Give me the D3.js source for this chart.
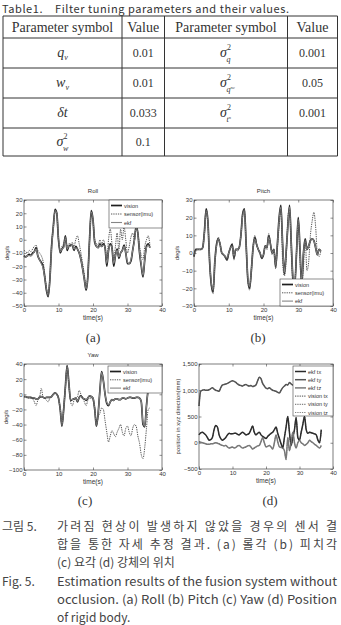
<!DOCTYPE html>
<html><head><meta charset="utf-8">
<script src="https://cdn.jsdelivr.net/npm/d3@7"></script>
<style>body{margin:0;background:#fff}svg{display:block}</style>
</head><body>
<svg id="c" width="341" height="625"></svg>
<script>
// ---------- DATA ----------
const tableTitle = "Table1.    Filter tuning parameters and their values.";
const tableHeader = ["Parameter symbol", "Value", "Parameter symbol", "Value"];
const leftSymbols = ["q_v", "w_v", "δt", "σ_w"];
const leftValues = ["0.01", "0.01", "0.033", "0.1"];
const rightSymbols = ["σ_q", "σ_qnc", "σ_tn", ""];
const rightValues = ["0.001", "0.05", "0.001", ""];

const xTicks = [0, 10, 20, 30, 40];
const time = [0,0.5,1,1.5,2,2.5,3,3.5,4,4.5,5,5.5,6,6.5,7,7.5,8,8.5,9,9.5,10,10.5,11,11.5,12,12.5,13,13.5,14,14.5,15,15.5,16,16.5,17,17.5,18,18.5,19,19.5,20,20.5,21,21.5,22,22.5,23,23.5,24,24.5,25,25.5,26,26.5,27,27.5,28,28.5,29,29.5,30,30.5,31,31.5,32,32.5,33,33.5,34,34.5,35,35.5,36,36.5];

const rollTicks = [-50,-40,-30,-20,-10,0,10,20,30];
const rollVision = [-12,-13,-12,-11,-12,-10,-9,-6,-12,-15, -17,-20,-28,-38,-43,-30,-5,10,23,20, 0,-10,-7,-5,3,-8,-5,-4,-4,-8, -5,-7,-10,-15,-22,-30,-38,-28,0,22, 15,-2,-5,-6,-3,-5,-3,-6,-20,-8, -3,-6,-20,-12,-7,-14,-10,-8,-4,-10, -18,-18,-16,-8,0,10,5,-10,-20,-28, -15,-5,-3,-6];
const rollEkf = [-13,-13,-12,-12,-12,-11,-9,-7,-12,-15, -18,-21,-28,-37,-42,-30,-6,9,22,20, 1,-9,-7,-6,2,-7,-5,-5,-4,-7, -6,-7,-10,-15,-22,-30,-37,-28,-1,21, 15,-1,-5,-6,-4,-5,-4,-6,-18,-8, -4,-6,-18,-12,-8,-13,-10,-8,-5,-10, -17,-18,-15,-8,-1,9,5,-9,-19,-27, -15,-6,-4,-6];
const rollSensor = [-8,-9,-10,-8,-9,-7,-5,-4,-8,-10, -12,-16,-25,-36,-42,-28,-3,10,22,20, 0,-8,-5,-3,2,-5,-3,-3,-2,-5, 0,3,-3,-10,-18,-26,-36,-26,0,20, 14,0,-3,-4,0,-3,0,-5,-15,0, 8,-3,-15,-5,5,-8,8,0,10,0, -10,-5,2,5,0,10,5,-5,-12,-15, -5,0,3,-4];

const pitchTicks = [-30,-20,-10,0,10,20,30];
const pitchVision = [-2,2,2,2,2,3,12,25,18,-5, -18,-22,-5,5,8,5,0,-1,-2,-4, 0,3,5,-3,2,2,3,10,22,25, 5,-15,-20,-10,3,9,5,2,0,-3, -1,4,3,10,5,0,2,-8,5,20, 27,5,-12,0,15,27,5,-15,-18,0, 20,2,-18,0,8,2,4,7,8,7, 3,-1,2,1];
const pitchEkf = [-1,1,2,2,2,3,11,24,18,-4, -17,-21,-5,4,8,5,0,-1,-2,-3, 0,3,4,-2,2,2,3,10,21,24, 5,-14,-19,-10,3,8,5,2,0,-2, -1,4,3,9,5,0,2,-7,5,19, 26,5,-11,0,15,26,5,-14,-17,0, 19,2,-17,0,7,2,4,7,8,7, 3,-1,2,1];
const pitchSensor = [-2,2,2,2,2,3,12,24,17,-6, -19,-23,-6,5,9,5,0,-1,-3,-4, 0,3,5,-4,2,1,3,10,22,25, 4,-16,-21,-10,3,10,5,2,0,-3, -1,4,2,11,5,-1,2,-9,3,15, 25,-5,-13,-5,20,25,0,-18,-16,0, 18,-5,-18,-8,8,-10,-5,10,18,23, 15,0,-2,1];

const yawTicks = [-100,-80,-60,-40,-20,0,20,40];
const yawVision = [-3,-3,-4,-4,-4,-5,-5,-6,-6,-4, -3,-4,-5,-4,-4,-4,-3,0,2,0, -5,-20,-42,-20,10,38,15,-8,-7,-6, -5,-10,-4,-2,-5,-6,-8,-5,-2,-3, -5,-20,-42,-25,5,30,18,0,-12,-15, -10,-7,-8,-6,-6,-7,-7,-5,-5,-6, -5,-4,-4,-5,-5,-4,-4,-5,-10,-40, -43,-15,5,8];
const yawEkf = [-3,-3,-4,-4,-5,-5,-5,-6,-6,-4, -3,-4,-5,-4,-4,-4,-3,0,2,0, -5,-19,-41,-20,9,37,15,-7,-7,-6, -5,-9,-4,-3,-5,-6,-7,-5,-2,-3, -5,-19,-41,-25,4,29,18,0,-11,-14, -10,-7,-8,-6,-6,-7,-7,-5,-5,-6, -5,-4,-4,-5,-5,-4,-4,-5,-10,-38, -42,-16,4,7];
const yawSensor = [-3,-3,-5,-5,-5,-6,-10,-15,-8,-5, 8,-3,-5,-8,-10,-5,-2,0,2,0, -5,-20,-40,-18,10,38,12,-10,-15,-8, -5,-3,5,0,-5,-10,-15,-8,-5,-5, -8,-18,-42,-30,-25,-18,-20,-35,-50,-63, -55,-48,-52,-56,-50,-45,-40,-50,-55,-45, -42,-50,-55,-45,-40,-42,-55,-65,-80,-85, -70,-45,-20,-18];

const posTicks = [-500,0,500,1000,1500];
const ekfTx = [150,190,200,180,150,100,50,60,100,250, 330,300,150,80,50,70,100,150,180,170, 170,180,180,160,150,180,200,180,150,160, 180,250,320,200,150,180,200,150,120,100, 80,120,150,180,200,250,300,180,80,-20, -100,100,300,500,200,-50,100,250,480,100, 50,200,350,500,250,180,200,190,180,170, 150,50,0,250];
const ekfTy = [700,980,1000,1010,1000,1000,1010,1030,1050,1020, 1000,990,980,1050,1100,1110,1120,1130,1150,1170, 1180,1170,1150,1120,1100,1090,1080,1100,1110,1090, 1080,1090,1070,1080,1100,1180,1250,1220,1130,1080, 1040,1030,1050,1020,1000,990,980,960,950,1000, 1050,1080,1110,1100,1150,1120,1100,1130,1140,1110, 1100,1130,1150,1130,1120,1100,1110,1130,1150,1170, 1180,1160,1150,1140];
const ekfTz = [20,10,0,-10,-20,-30,-30,-20,-20,-10, 0,-10,-20,-40,-50,-60,-50,-80,-100,-90, -80,-100,-90,-60,-50,-80,-100,-90,-80,-60, -50,-80,-120,-100,-80,-60,-50,20,100,0, -80,-70,-50,-80,-120,0,150,20,-80,-90, -100,-150,-320,100,-150,0,200,0,-100,0, 50,0,-20,-50,-30,0,50,20,0,-30, -50,-80,-100,-50];
const visTx = [150,185,200,180,150,100,55,60,100,245, 330,300,150,80,50,70,100,150,180,170, 170,180,180,160,150,180,200,180,150,160, 180,250,320,200,150,180,200,150,120,100, 80,120,150,180,200,250,300,180,80,-20, -100,100,300,500,200,-50,100,250,480,100, 50,200,350,500,250,180,200,190,180,170, 150,50,0,250];
const visTy = [700,980,1000,1010,1000,1000,1010,1030,1050,1020, 1000,990,980,1050,1100,1110,1120,1130,1150,1170, 1180,1170,1150,1120,1100,1090,1080,1100,1110,1090, 1080,1090,1070,1080,1100,1180,1250,1220,1130,1080, 1040,1030,1050,1020,1000,990,980,960,950,1000, 1050,1080,1110,1100,1150,1120,1100,1130,1140,1110, 1100,1130,1150,1130,1120,1100,1110,1130,1150,1170, 1180,1160,1150,1140];
const visTz = [20,10,0,-10,-20,-30,-30,-20,-20,-10, 0,-10,-20,-40,-50,-60,-50,-80,-100,-90, -80,-100,-90,-60,-50,-80,-100,-90,-80,-60, -50,-80,-120,-100,-80,-60,-50,20,100,0, -80,-70,-50,-80,-120,0,150,20,-80,-90, -100,-150,-320,100,-150,0,200,0,-100,0, 50,0,-20,-50,-30,0,50,20,0,-30, -50,-80,-100,-50];

const angleLegend = ["vision", "sensor(imu)", "ekf"];
const posLegend = ["ekf tx", "ekf ty", "ekf tz", "vision tx", "vision ty", "vision tz"];
const subLabels = ["(a)", "(b)", "(c)", "(d)"];
const captionKo = ["가려짐 현상이 발생하지 않았을 경우의 센서 결", "합을 통한 자세 추정 결과. (a) 롤각 (b) 피치각", "(c) 요각 (d) 강체의 위치"];
const captionEn = ["Estimation results of the fusion system without", "occlusion. (a) Roll (b) Pitch (c) Yaw (d) Position", "of rigid body."];

// ---------- DRAW ----------
const svg = d3.select("#c");
const TXT = "#333";
const sans = "'Liberation Sans', Arial, sans-serif";
const serif = "'Liberation Serif', 'DejaVu Serif', serif";
const kfont = "'Noto Sans CJK KR', 'Noto Sans', sans-serif";

// Table
svg.append("text").attr("x", 2).attr("y", 13).attr("font-family", kfont).attr("font-size", 11)
  .attr("fill", TXT).attr("textLength", 287).attr("lengthAdjust", "spacing").style("white-space", "pre").text(tableTitle);
const colX = [3, 122, 164.5, 287.5, 337.5];
const rowY = [16, 38, 68, 98, 128, 156];
const tg = svg.append("g");
rowY.forEach(y => tg.append("line").attr("x1", colX[0]).attr("x2", colX[4]).attr("y1", y).attr("y2", y).attr("stroke", "#333").attr("stroke-width", 1));
colX.forEach(x => tg.append("line").attr("x1", x).attr("x2", x).attr("y1", rowY[0]).attr("y2", rowY[5]).attr("stroke", "#333").attr("stroke-width", 1));
const colC = [0,1,2,3].map(i => (colX[i] + colX[i+1]) / 2);
tableHeader.forEach((h, i) => tg.append("text").attr("x", colC[i]).attr("y", 32).attr("text-anchor", "middle")
  .attr("font-family", serif).attr("font-size", 14).attr("fill", TXT).text(h));

function symbol(g, cx, cy, s) {
  const t = g.append("text").attr("x", cx).attr("y", cy).attr("text-anchor", "middle")
    .attr("font-family", serif).attr("font-style", "italic").attr("font-size", 14).attr("fill", TXT);
  if (s === "q_v" || s === "w_v") {
    t.append("tspan").text(s[0]);
    t.append("tspan").attr("font-size", 8).attr("dy", 3).text("v");
  } else if (s === "δt") {
    t.text("δt");
  } else if (s.startsWith("σ")) {
    const sub = s.slice(2);
    t.attr("text-anchor", "start").attr("x", cx - 6);
    t.append("tspan").text("σ");
    t.append("tspan").attr("font-size", 8).attr("dy", -7).attr("font-style", "normal").text("2");
    const st = t.append("tspan").attr("font-size", 8).attr("dx", -4.5).attr("dy", 12);
    if (sub === "w") st.text("w");
    else if (sub === "q") st.text("q");
    else if (sub === "qnc") { st.text("q"); t.append("tspan").attr("font-size", 4.5).attr("dy", -3).text("nc"); }
    else if (sub === "tn") { st.text("t"); t.append("tspan").attr("font-size", 4.5).attr("dy", -3).text("n"); }
  }
}
for (let r = 0; r < 4; r++) {
  const cy = (rowY[r+1] + rowY[r+2]) / 2 + 4;
  symbol(tg, colC[0], cy, leftSymbols[r]);
  tg.append("text").attr("x", colC[1]).attr("y", cy).attr("text-anchor", "middle").attr("font-family", serif)
    .attr("font-size", 12).attr("fill", TXT).text(leftValues[r]);
  if (rightSymbols[r]) symbol(tg, colC[2], cy, rightSymbols[r]);
  tg.append("text").attr("x", colC[3]).attr("y", cy).attr("text-anchor", "middle").attr("font-family", serif)
    .attr("font-size", 12).attr("fill", TXT).text(rightValues[r]);
}

// Plots
function plot(cfg) {
  const g = svg.append("g");
  const x = d3.scaleLinear().domain([0, 40]).range([cfg.x0, cfg.x1]);
  const y = d3.scaleLinear().domain(cfg.yDom).range([cfg.y1, cfg.y0]);
  g.append("rect").attr("x", cfg.x0).attr("y", cfg.y0).attr("width", cfg.x1 - cfg.x0).attr("height", cfg.y1 - cfg.y0)
    .attr("fill", "#fff");
  const ts = 2.5;
  const styleAxis = a => {
    a.select(".domain").remove();
    a.selectAll(".tick line").attr("stroke", "#444").attr("stroke-width", 0.6);
    a.selectAll(".tick text").attr("font-family", sans).attr("font-size", 6).attr("fill", TXT);
  };
  g.append("g").attr("transform", `translate(0,${cfg.y1})`)
    .call(d3.axisBottom(x).tickValues(xTicks).tickSize(-ts).tickPadding(1.5)).call(styleAxis);
  g.append("g").attr("transform", `translate(0,${cfg.y0})`)
    .call(d3.axisTop(x).tickValues(xTicks).tickSize(-ts).tickFormat("")).call(styleAxis);
  g.append("g").attr("transform", `translate(${cfg.x0},0)`)
    .call(d3.axisLeft(y).tickValues(cfg.yTicks).tickSize(-ts).tickPadding(1.5)).call(styleAxis);
  g.append("g").attr("transform", `translate(${cfg.x1},0)`)
    .call(d3.axisRight(y).tickValues(cfg.yTicks).tickSize(-ts).tickFormat("")).call(styleAxis);

  const line = d3.line().x((d, i) => x(time[i])).y(d => y(d)).curve(d3.curveMonotoneX);
  cfg.series.forEach(s => {
    g.append("path").datum(s.data).attr("d", line).attr("fill", "none").attr("stroke", s.color)
      .attr("stroke-width", s.w).attr("stroke-dasharray", s.dash || null).attr("stroke-linejoin", "round");
  });
  g.append("rect").attr("x", cfg.x0).attr("y", cfg.y0).attr("width", cfg.x1 - cfg.x0).attr("height", cfg.y1 - cfg.y0)
    .attr("fill", "none").attr("stroke", "#444").attr("stroke-width", 0.7);

  if (cfg.title) g.append("text").attr("x", (cfg.x0 + cfg.x1) / 2).attr("y", cfg.y0 - 7).attr("text-anchor", "middle")
    .attr("font-family", sans).attr("font-size", 6).attr("fill", TXT).text(cfg.title);
  g.append("text").attr("x", (cfg.x0 + cfg.x1) / 2).attr("y", cfg.y1 + 14).attr("text-anchor", "middle")
    .attr("font-family", sans).attr("font-size", 6.5).attr("fill", TXT).text("time(s)");
  g.append("text").attr("transform", `translate(${cfg.ylx},${(cfg.y0 + cfg.y1) / 2}) rotate(-90)`).attr("text-anchor", "middle")
    .attr("font-family", sans).attr("font-size", 6).attr("fill", TXT).text(cfg.ylabel);

  // legend
  const L = cfg.legend;
  g.append("rect").attr("x", L.x).attr("y", L.y).attr("width", L.w).attr("height", L.h)
    .attr("fill", "#fff").attr("stroke", "#444").attr("stroke-width", 0.6);
  cfg.legendItems.forEach((name, i) => {
    const s = cfg.legendStyles[i];
    const yy = L.y + 5.5 + i * L.step;
    g.append("line").attr("x1", L.x + 2).attr("x2", L.x + 13).attr("y1", yy).attr("y2", yy)
      .attr("stroke", s.color).attr("stroke-width", s.w).attr("stroke-dasharray", s.dash || null);
    g.append("text").attr("x", L.x + 15).attr("y", yy + 2).attr("font-family", sans).attr("font-size", 5.5)
      .attr("fill", TXT).text(name);
  });
}

const stVision = {color: "#1e1e1e", w: 1.7};
const stSensor = {color: "#555", w: 1, dash: "1.3,1"};
const stEkf = {color: "#858585", w: 1.1};

plot({x0: 24, x1: 162, y0: 200, y1: 306, yDom: [-50, 30], yTicks: rollTicks, title: "Roll", ylabel: "deg/s", ylx: 9,
  series: [{...stVision, data: rollVision}, {...stEkf, data: rollEkf}, {...stSensor, data: rollSensor}],
  legend: {x: 109, y: 200, w: 53, h: 28, step: 8.5}, legendItems: angleLegend, legendStyles: [stVision, stSensor, stEkf]});
plot({x0: 194, x1: 333, y0: 200, y1: 306, yDom: [-30, 30], yTicks: pitchTicks, title: "Pitch", ylabel: "deg/s", ylx: 179,
  series: [{...stVision, data: pitchVision}, {...stEkf, data: pitchEkf}, {...stSensor, data: pitchSensor}],
  legend: {x: 280, y: 279, w: 53, h: 27, step: 8.3}, legendItems: angleLegend, legendStyles: [stVision, stSensor, stEkf]});
plot({x0: 24, x1: 162, y0: 364, y1: 470, yDom: [-100, 40], yTicks: yawTicks, title: "Yaw", ylabel: "deg/s", ylx: 8,
  series: [{...stVision, data: yawVision}, {...stEkf, data: yawEkf}, {...stSensor, data: yawSensor}],
  legend: {x: 108, y: 366, w: 54, h: 27, step: 8.3}, legendItems: angleLegend, legendStyles: [stVision, stSensor, stEkf]});

const pTx = {color: "#2a2a2a", w: 1.5}, pTy = {color: "#555", w: 1.5}, pTz = {color: "#7a7a7a", w: 1.5};
const pVx = {color: "#333", w: 0.9, dash: "1.3,1"}, pVy = {color: "#555", w: 0.9, dash: "1.3,1"}, pVz = {color: "#777", w: 0.9, dash: "1.3,1"};
plot({x0: 199, x1: 333, y0: 364, y1: 469, yDom: [-500, 1500], yTicks: posTicks, title: null,
  ylabel: "position in xyz direction(mm)", ylx: 180,
  series: [{...pTy, data: ekfTy}, {...pTx, data: ekfTx}, {...pTz, data: ekfTz},
           {...pVx, data: visTx}, {...pVy, data: visTy}, {...pVz, data: visTz}],
  legend: {x: 293, y: 366, w: 40, h: 50, step: 8.2}, legendItems: posLegend, legendStyles: [pTx, pTy, pTz, pVx, pVy, pVz]});

// sub labels
const subPos = [[93, 342], [258, 342], [85, 505], [270, 505]];
subLabels.forEach((s, i) => svg.append("text").attr("x", subPos[i][0]).attr("y", subPos[i][1]).attr("text-anchor", "middle")
  .attr("font-family", serif).attr("font-size", 13).attr("fill", TXT).text(s));

// caption
const capY = [531, 549, 567, 586, 604, 622];
svg.append("text").attr("x", 2).attr("y", capY[0]).attr("font-family", kfont).attr("font-size", 12).attr("fill", "#444").text("그림 5.");
svg.append("text").attr("x", 2).attr("y", capY[3]).attr("font-family", kfont).attr("font-size", 12).attr("fill", "#444").text("Fig.  5.");
captionKo.forEach((s, i) => {
  const t = svg.append("text").attr("x", 57).attr("y", capY[i]).attr("font-family", kfont).attr("font-size", 12).attr("fill", "#444").text(s);
  if (i < 2) t.attr("textLength", 280).attr("lengthAdjust", "spacing");
});
captionEn.forEach((s, i) => {
  const t = svg.append("text").attr("x", 57).attr("y", capY[i + 3]).attr("font-family", kfont).attr("font-size", 12).attr("fill", "#444").text(s);
  if (i < 2) t.attr("textLength", 280).attr("lengthAdjust", "spacingAndGlyphs");
});
</script>
</body></html>
